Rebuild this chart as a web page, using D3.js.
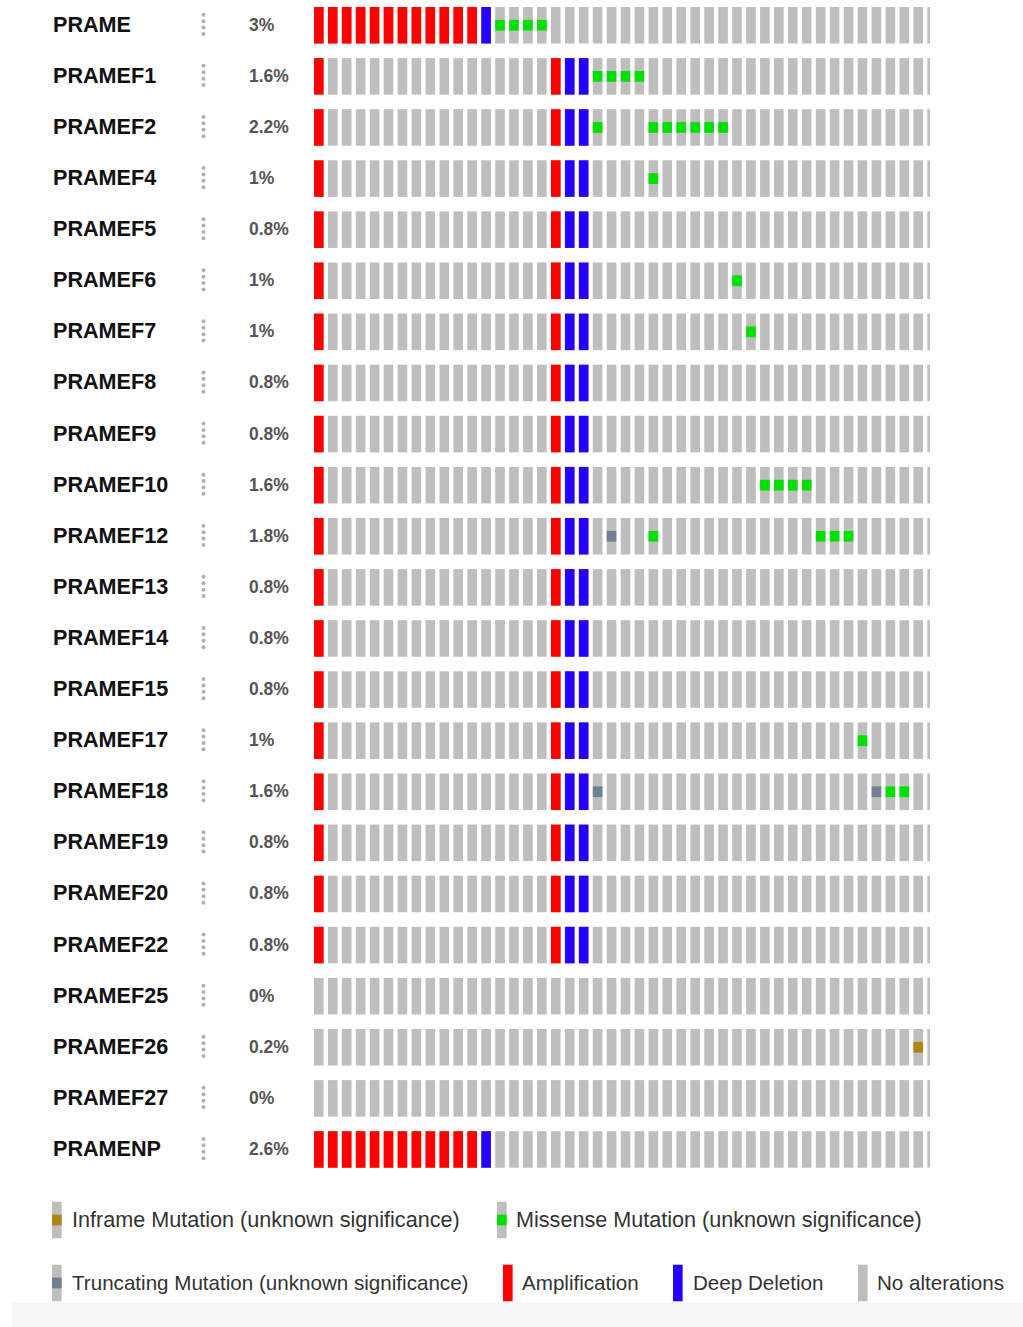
<!DOCTYPE html>
<html>
<head>
<meta charset="utf-8">
<script src="https://cdn.jsdelivr.net/npm/d3@7"></script>
<style>
  html, body { margin: 0; padding: 0; background: #fff; }
  svg { display: block; font-family: "Liberation Sans", Arial, Helvetica, sans-serif; }
</style>
</head>
<body>
<svg id="chart" width="1023" height="1327"></svg>
<script>
// Genes (rows) of the oncoprint and their altered-sample percentages
const genes = ["PRAME", "PRAMEF1", "PRAMEF2", "PRAMEF4", "PRAMEF5", "PRAMEF6", "PRAMEF7",
  "PRAMEF8", "PRAMEF9", "PRAMEF10", "PRAMEF12", "PRAMEF13", "PRAMEF14", "PRAMEF15",
  "PRAMEF17", "PRAMEF18", "PRAMEF19", "PRAMEF20", "PRAMEF22", "PRAMEF25", "PRAMEF26",
  "PRAMEF27", "PRAMENP"];
const pctLabels = ["3%", "1.6%", "2.2%", "1%", "0.8%", "1%", "1%", "0.8%", "0.8%", "1.6%",
  "1.8%", "0.8%", "0.8%", "0.8%", "1%", "1.6%", "0.8%", "0.8%", "0.8%", "0%", "0.2%", "0%", "2.6%"];

// Number of sample columns shown in the visible part of the track
const sampleCount = 45;

// Altered sample columns per gene (same order as genes)
const firstTwelve = [0, 1, 2, 3, 4, 5, 6, 7, 8, 9, 10, 11];
const amplification = [firstTwelve,
  [0, 17], [0, 17], [0, 17], [0, 17], [0, 17], [0, 17], [0, 17], [0, 17], [0, 17],
  [0, 17], [0, 17], [0, 17], [0, 17], [0, 17], [0, 17], [0, 17], [0, 17], [0, 17],
  [], [], [], firstTwelve];
const deepDeletion = [[12],
  [18, 19], [18, 19], [18, 19], [18, 19], [18, 19], [18, 19], [18, 19], [18, 19], [18, 19],
  [18, 19], [18, 19], [18, 19], [18, 19], [18, 19], [18, 19], [18, 19], [18, 19], [18, 19],
  [], [], [], [12]];
const missense = [[13, 14, 15, 16], [20, 21, 22, 23], [20, 24, 25, 26, 27, 28, 29], [24], [],
  [30], [31], [], [], [32, 33, 34, 35], [24, 36, 37, 38], [], [], [], [39], [41, 42],
  [], [], [], [], [], [], []];
const truncating = [[], [], [], [], [], [], [], [], [], [], [21], [], [], [], [], [20, 40],
  [], [], [], [], [], [], []];
const inframe = [[], [], [], [], [], [], [], [], [], [], [], [], [], [], [], [], [], [], [],
  [], [43], [], []];

// Legend entries
const legendLabels = ["Inframe Mutation (unknown significance)", "Missense Mutation (unknown significance)",
  "Truncating Mutation (unknown significance)", "Amplification", "Deep Deletion", "No alterations"];

const colors = {
  none: "#bebebe",
  amp: "#ff0000",
  del: "#2400ff",
  missense: "#00e000",
  truncating: "#708090",
  inframe: "#b08410"
};

const svg = d3.select("#chart");

// Faint band along the bottom edge
svg.append("rect").attr("x", 12).attr("y", 1303).attr("width", 1011).attr("height", 24)
  .attr("fill", "#f6f6f6");

const step = 13.94;
const colPad = 0.31;
const x = d3.scaleBand()
  .domain(d3.range(sampleCount))
  .range([314, 314 + step * (sampleCount - colPad)])
  .paddingInner(colPad)
  .paddingOuter(0);

const rowStep = 51.1;
const rowPad = 0.285;
const y = d3.scaleBand()
  .domain(genes)
  .range([7, 7 + rowStep * (genes.length - rowPad)])
  .paddingInner(rowPad)
  .paddingOuter(0);

// Track area is cut off at the right edge
svg.append("defs").append("clipPath").attr("id", "trackClip")
  .append("rect").attr("x", 300).attr("y", 0).attr("width", 630).attr("height", 1190);

const tracks = svg.append("g").attr("clip-path", "url(#trackClip)");

const bw = x.bandwidth();
const bh = y.bandwidth();
const mh = bh / 3.4;

genes.forEach((g, gi) => {
  const row = tracks.append("g").attr("class", "row");
  const y0 = y(g);
  // base grey cells
  row.selectAll("rect.base").data(d3.range(sampleCount)).join("rect")
    .attr("class", "base")
    .attr("x", d => x(d)).attr("y", y0).attr("width", bw).attr("height", bh)
    .attr("fill", colors.none);
  // copy-number alterations (full height)
  row.selectAll("rect.amp").data(amplification[gi]).join("rect")
    .attr("class", "amp")
    .attr("x", d => x(d)).attr("y", y0).attr("width", bw).attr("height", bh)
    .attr("fill", colors.amp);
  row.selectAll("rect.del").data(deepDeletion[gi]).join("rect")
    .attr("class", "del")
    .attr("x", d => x(d)).attr("y", y0).attr("width", bw).attr("height", bh)
    .attr("fill", colors.del);
  // mutations (small centred squares)
  [["missense", missense], ["truncating", truncating], ["inframe", inframe]].forEach(([k, arr]) => {
    row.selectAll("rect." + k).data(arr[gi]).join("rect")
      .attr("class", k)
      .attr("x", d => x(d)).attr("y", y0 + (bh - mh) / 2).attr("width", bw).attr("height", mh)
      .attr("fill", colors[k]);
  });
});

// Row labels, menu dots and percentages
const labels = svg.append("g");
genes.forEach((g, gi) => {
  const cy = y(g) + bh / 2;
  labels.append("text")
    .attr("x", 53).attr("y", cy + 6.5)
    .attr("font-size", 21.6).attr("font-weight", "bold").attr("fill", "#111")
    .text(g);
  [-10, -3.6, 2.8, 9.2].forEach(dy => {
    labels.append("circle").attr("cx", 203.5).attr("cy", cy + dy - 0.5).attr("r", 2)
      .attr("fill", "#b0b0b0");
  });
  labels.append("text")
    .attr("x", 249).attr("y", cy + 5.5)
    .attr("font-size", 17.5).attr("font-weight", "bold").attr("fill", "#555")
    .text(pctLabels[gi]);
});

// Legend
const legend = svg.append("g");
const legendItems = [
  { label: legendLabels[0], kind: "inframe", gx: 52, tx: 72, cy: 1220, fs: 21.6 },
  { label: legendLabels[1], kind: "missense", gx: 497, tx: 516, cy: 1220, fs: 21.6 },
  { label: legendLabels[2], kind: "truncating", gx: 52, tx: 72, cy: 1283, fs: 20.6 },
  { label: legendLabels[3], kind: "amp", gx: 503, tx: 522, cy: 1283, fs: 20.6 },
  { label: legendLabels[4], kind: "del", gx: 673, tx: 693, cy: 1283, fs: 20.6 },
  { label: legendLabels[5], kind: "none", gx: 858, tx: 877, cy: 1283, fs: 20.6 }
];
legendItems.forEach(it => {
  const full = (it.kind === "amp" || it.kind === "del" || it.kind === "none");
  legend.append("rect")
    .attr("x", it.gx).attr("y", it.cy - bh / 2).attr("width", bw).attr("height", bh)
    .attr("fill", full ? colors[it.kind] : colors.none);
  if (!full) {
    legend.append("rect")
      .attr("x", it.gx).attr("y", it.cy - mh / 2).attr("width", bw).attr("height", mh)
      .attr("fill", colors[it.kind]);
  }
  legend.append("text")
    .attr("x", it.tx).attr("y", it.cy + 7)
    .attr("font-size", it.fs).attr("fill", "#333")
    .text(it.label);
});
</script>
</body>
</html>
